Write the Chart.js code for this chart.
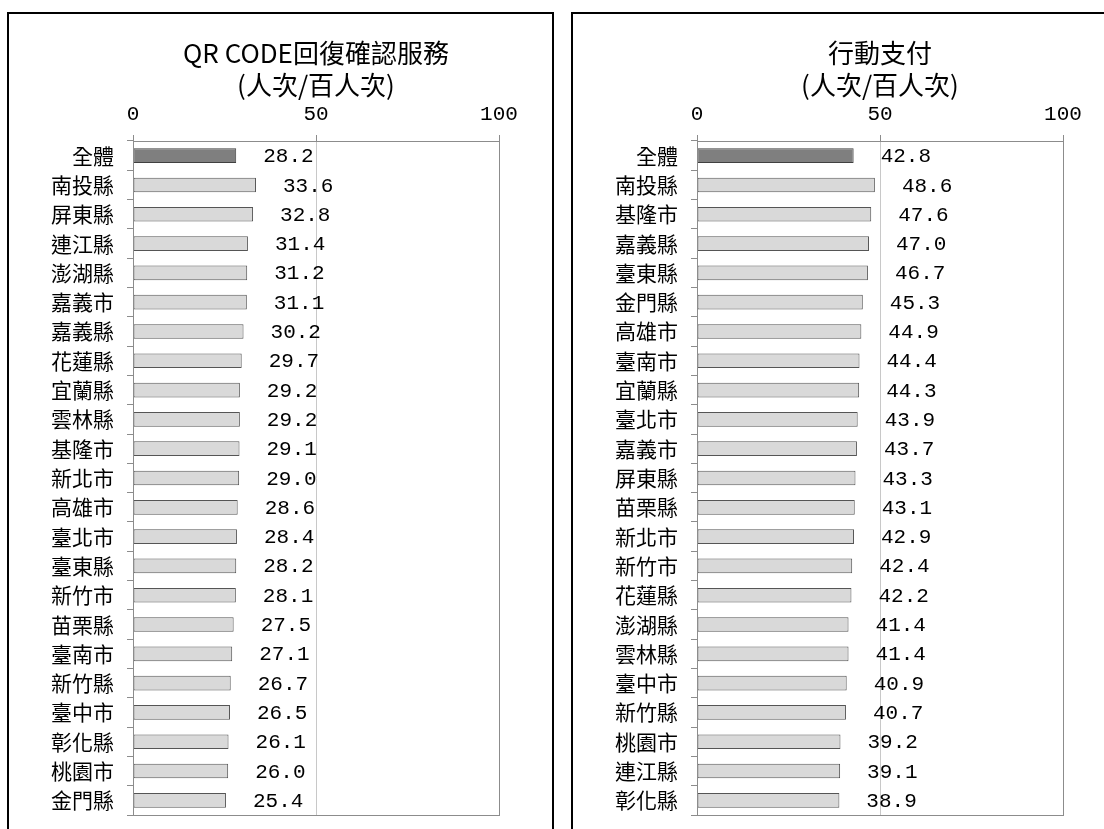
<!DOCTYPE html>
<html lang="zh-Hant">
<head>
    <title>QR CODE回復確認服務 / 行動支付</title>
    <meta charset="utf-8">
    <script src="https://cdn.jsdelivr.net/npm/chart.js"></script>
    <style>
        body { margin: 0; background: #fff; overflow: hidden; }
        .panel { position: absolute; top: 12px; width: 543px; height: 840px; border: 2px solid #000; background: #fff; }
        .panel canvas { display: block; }
    </style>
</head>
<body>
    <div class="panel" style="left: 7px;">
        <canvas id="qrChart" width="543" height="830"></canvas>
    </div>
    <div class="panel" style="left: 571px;">
        <canvas id="payChart" width="543" height="830"></canvas>
    </div>

    <script>
        // datos
        const qrTitle = ['QR CODE回復確認服務', '(人次/百人次)'];
        const qrLabels = ['全體', '南投縣', '屏東縣', '連江縣', '澎湖縣', '嘉義市', '嘉義縣', '花蓮縣',
            '宜蘭縣', '雲林縣', '基隆市', '新北市', '高雄市', '臺北市', '臺東縣', '新竹市',
            '苗栗縣', '臺南市', '新竹縣', '臺中市', '彰化縣', '桃園市', '金門縣'];
        const qrValues = [28.2, 33.6, 32.8, 31.4, 31.2, 31.1, 30.2, 29.7,
            29.2, 29.2, 29.1, 29.0, 28.6, 28.4, 28.2, 28.1,
            27.5, 27.1, 26.7, 26.5, 26.1, 26.0, 25.4];

        const payTitle = ['行動支付', '(人次/百人次)'];
        const payLabels = ['全體', '南投縣', '基隆市', '嘉義縣', '臺東縣', '金門縣', '高雄市', '臺南市',
            '宜蘭縣', '臺北市', '嘉義市', '屏東縣', '苗栗縣', '新北市', '新竹市', '花蓮縣',
            '澎湖縣', '雲林縣', '臺中市', '新竹縣', '桃園市', '連江縣', '彰化縣'];
        const payValues = [42.8, 48.6, 47.6, 47.0, 46.7, 45.3, 44.9, 44.4,
            44.3, 43.9, 43.7, 43.3, 43.1, 42.9, 42.4, 42.2,
            41.4, 41.4, 40.9, 40.7, 39.2, 39.1, 38.9];

        const axisTicks = [0, 50, 100];

        Chart.defaults.font.family = "'Noto Sans CJK TC', 'Noto Sans', sans-serif";
        Chart.defaults.color = '#000';

        const frameColor = '#8c8c8c';
        const gridColor = '#c8c8c8';
        const numFont = "'Liberation Mono', monospace";

        // etiquetas de valor a la derecha de cada barra
        const valueLabels = {
            id: 'valueLabels',
            afterDatasetsDraw(chart) {
                const ctx = chart.ctx;
                const meta = chart.getDatasetMeta(0);
                const data = chart.data.datasets[0].data;
                ctx.save();
                ctx.font = '21px ' + numFont;
                ctx.fillStyle = '#000';
                ctx.textAlign = 'left';
                ctx.textBaseline = 'middle';
                meta.data.forEach((bar, i) => {
                    ctx.fillText(data[i].toFixed(1), bar.x + 27, bar.y + 1);
                });
                ctx.restore();
            }
        };

        // marco gris del área del gráfico
        const plotFrame = {
            id: 'plotFrame',
            afterDraw(chart) {
                const a = chart.chartArea;
                const ctx = chart.ctx;
                ctx.save();
                ctx.strokeStyle = frameColor;
                ctx.lineWidth = 1;
                ctx.strokeRect(Math.round(a.left) + 0.5, Math.round(a.top) + 0.5,
                    Math.round(a.right - a.left), Math.round(a.bottom - a.top));
                ctx.restore();
            }
        };

        function makeChart(id, title, labels, values) {
            const ctx = document.getElementById(id).getContext('2d');
            return new Chart(ctx, {
                type: 'bar',
                data: {
                    labels: labels,
                    datasets: [{
                        data: values,
                        backgroundColor: values.map((v, i) => i === 0 ? '#7f7f7f' : '#d9d9d9'),
                        borderColor: values.map((v, i) => i === 0 ? '#404040' : '#555555'),
                        borderWidth: 1,
                        borderSkipped: false,
                        categoryPercentage: 1,
                        barPercentage: 0.5
                    }]
                },
                options: {
                    indexAxis: 'y',
                    responsive: false,
                    animation: false,
                    layout: { padding: { left: 0, right: 53, top: 0, bottom: 29 } },
                    plugins: {
                        legend: { display: false },
                        tooltip: { enabled: false },
                        title: {
                            display: true,
                            fullSize: false,
                            text: title,
                            color: '#000',
                            font: { size: 26, weight: 'normal', lineHeight: '32px' },
                            padding: { top: 23, bottom: 2 }
                        }
                    },
                    scales: {
                        x: {
                            position: 'top',
                            min: 0,
                            max: 100,
                            afterBuildTicks: (scale) => {
                                scale.ticks = axisTicks.map(v => ({ value: v }));
                            },
                            afterFit: (scale) => { scale.height = 38; },
                            ticks: {
                                padding: 8,
                                color: '#000',
                                font: { family: numFont, size: 21, lineHeight: 1.2 }
                            },
                            grid: {
                                color: (c) => c.tick && c.tick.value === 50 ? gridColor : frameColor,
                                tickColor: frameColor,
                                tickLength: 6
                            },
                            border: { color: frameColor }
                        },
                        y: {
                            afterFit: (scale) => { scale.width = 124; },
                            ticks: {
                                autoSkip: false,
                                padding: 13,
                                color: '#000',
                                font: { size: 21 }
                            },
                            grid: {
                                offset: true,
                                drawOnChartArea: false,
                                color: frameColor,
                                tickLength: 6
                            },
                            border: { color: frameColor }
                        }
                    }
                },
                plugins: [valueLabels, plotFrame]
            });
        }

        document.addEventListener('DOMContentLoaded', function() {
            makeChart('qrChart', qrTitle, qrLabels, qrValues);
            makeChart('payChart', payTitle, payLabels, payValues);
        });
    </script>
</body>
</html>
